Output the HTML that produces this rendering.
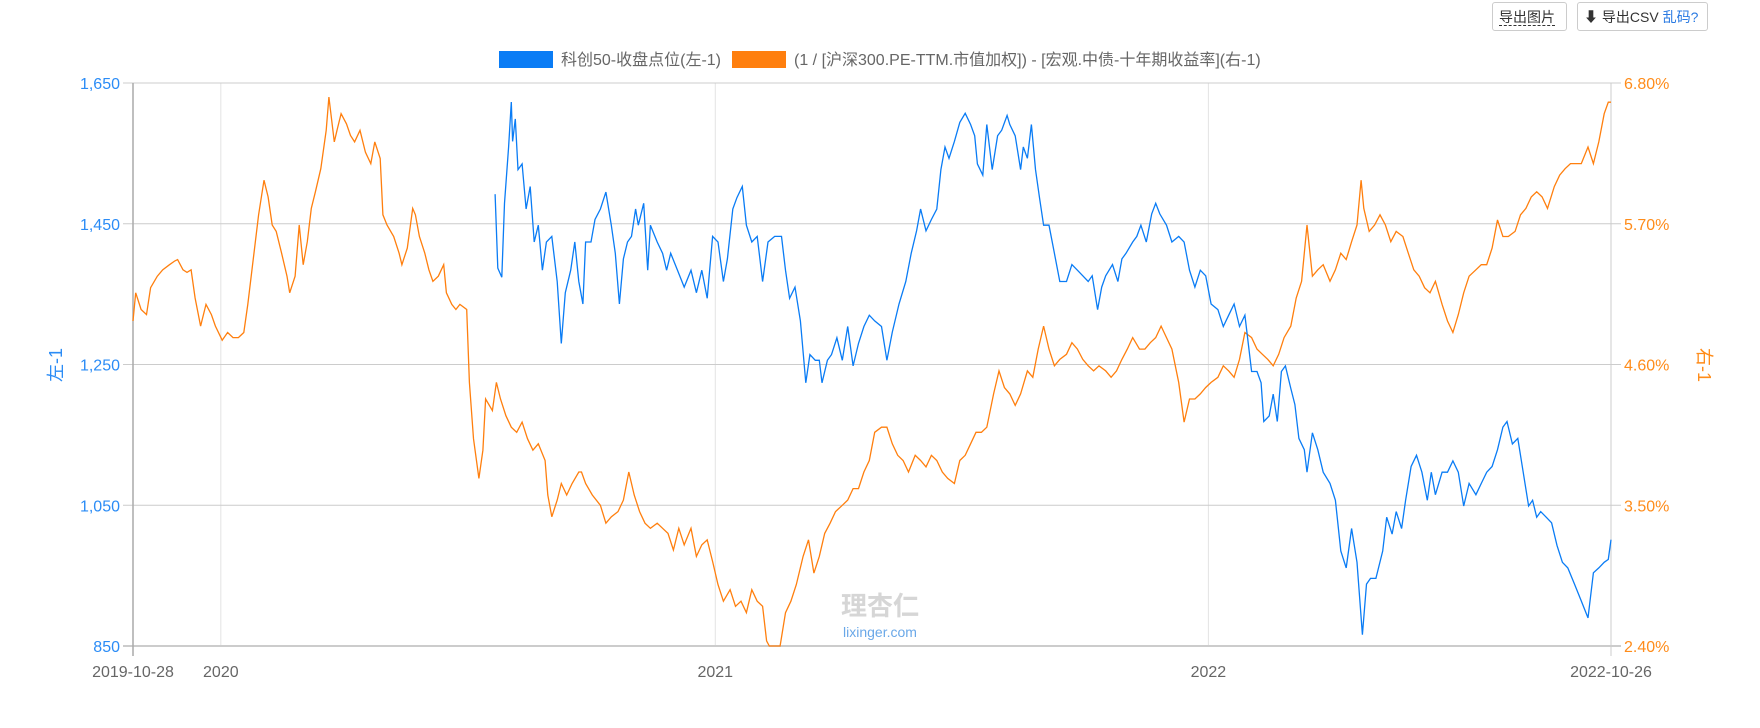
<!DOCTYPE html>
<html><head><meta charset="utf-8">
<style>
body{margin:0;width:1760px;height:728px;background:#fff;overflow:hidden;font-family:"Liberation Sans","Noto Sans CJK SC",sans-serif;}
.btn{position:absolute;top:2px;height:29px;border:1px solid #ccc;border-radius:3px;background:#fff;font-size:14px;color:#333;line-height:28px;box-sizing:border-box;padding:0 6px;white-space:nowrap;}
</style></head><body>
<div class="btn" style="left:1492px;width:75px;"><span style="border-bottom:1px dashed #333;">导出图片</span></div>
<div class="btn" style="left:1577px;width:131px;">⬇ 导出CSV <span style="color:#2a7ae2">乱码?</span></div>
<svg id="chart" width="1760" height="728" style="position:absolute;left:0;top:0"></svg>
<script>
const blueDays=[268,270,273,275,278,280,281,283,285,288,291,294,297,300,303,306,310,314,317,320,324,327,330,333,335,339,342,346,350,354,357,360,363,366,369,372,374,378,381,383,388,392,395,398,403,408,413,417,421,425,429,433,437,440,444,447,451,454,458,462,466,470,475,480,483,486,490,494,498,501,505,508,510,514,517,521,525,529,533,537,541,545,549,554,558,562,567,572,576,580,583,587,591,595,598,601,604,608,612,616,620,623,625,629,632,636,640,643,647,649,653,657,659,662,665,668,671,674,678,682,686,691,695,699,703,707,710,714,717,720,725,729,732,735,740,743,746,750,754,757,760,765,769,774,778,782,786,790,794,798,803,807,811,815,819,823,828,832,835,837,841,844,847,850,853,857,860,863,867,869,873,877,881,886,890,894,898,902,906,910,913,916,920,925,928,932,935,939,942,946,950,954,958,961,964,969,973,977,981,985,989,994,998,1002,1006,1010,1014,1017,1021,1025,1029,1033,1036,1039,1042,1046,1050,1054,1058,1062,1067,1072,1077,1081,1085,1089,1092,1094];
const blueVals=[1492,1387,1374,1479,1559,1623,1567,1599,1527,1535,1471,1503,1424,1448,1384,1424,1432,1368,1280,1352,1384,1424,1368,1336,1424,1424,1456,1471,1495,1448,1408,1336,1400,1424,1432,1471,1448,1479,1384,1448,1424,1408,1384,1408,1384,1360,1384,1352,1384,1344,1432,1424,1368,1400,1471,1487,1503,1448,1424,1432,1368,1424,1432,1432,1384,1344,1360,1312,1224,1264,1256,1256,1224,1256,1264,1288,1256,1304,1248,1280,1304,1320,1312,1304,1256,1296,1336,1368,1408,1440,1471,1440,1456,1471,1527,1559,1543,1567,1594,1607,1591,1575,1535,1519,1591,1527,1575,1583,1604,1591,1575,1527,1559,1543,1591,1527,1487,1448,1448,1408,1368,1368,1392,1384,1376,1368,1376,1328,1360,1376,1392,1368,1400,1408,1424,1432,1448,1424,1464,1479,1464,1448,1424,1432,1424,1384,1360,1384,1376,1336,1328,1304,1320,1336,1304,1320,1240,1240,1224,1169,1177,1208,1169,1240,1248,1216,1193,1145,1129,1097,1153,1129,1097,1081,1057,985,961,1017,969,866,938,946,946,985,1033,1009,1041,1017,1057,1105,1121,1097,1057,1097,1065,1097,1097,1113,1097,1049,1081,1065,1081,1097,1105,1129,1161,1169,1137,1145,1097,1049,1057,1033,1041,1033,1025,993,969,961,938,914,890,954,961,969,973,1001];
const orangeDays=[0,2,6,10,13,18,22,27,31,33,37,40,43,46,50,54,58,61,66,70,74,78,82,85,89,93,97,100,103,106,110,114,116,120,123,126,129,132,135,139,143,145,149,151,154,158,161,164,168,172,176,179,183,185,188,193,197,199,203,207,209,212,216,219,222,226,230,232,236,239,242,247,249,252,256,259,261,266,269,272,276,280,284,288,292,296,300,305,307,310,314,317,321,325,330,332,335,340,346,350,354,359,363,367,371,375,379,383,388,392,396,400,404,408,413,417,421,425,429,433,437,442,446,450,454,458,462,466,469,471,475,479,483,487,491,496,500,504,508,512,516,520,525,529,533,537,541,545,549,554,558,562,566,570,574,579,583,587,591,595,599,603,608,612,616,620,624,628,632,637,641,645,649,653,657,662,666,670,674,678,682,686,691,695,699,703,707,711,715,720,724,728,732,736,740,745,749,753,757,761,765,769,774,778,782,786,790,794,798,803,807,811,815,819,823,828,832,836,840,844,848,852,857,861,865,869,873,877,881,886,890,894,898,902,906,909,911,915,919,923,927,931,935,940,944,948,952,956,960,964,969,973,977,981,985,989,994,998,1002,1006,1010,1014,1018,1023,1027,1031,1035,1039,1043,1047,1052,1056,1060,1064,1068,1072,1077,1081,1085,1089,1092,1094];
const orangeVals=[4.94,5.16,5.03,4.99,5.20,5.29,5.34,5.38,5.41,5.42,5.34,5.32,5.34,5.12,4.90,5.07,4.99,4.90,4.79,4.85,4.81,4.81,4.85,5.07,5.42,5.77,6.04,5.91,5.69,5.64,5.47,5.29,5.16,5.29,5.69,5.38,5.56,5.82,5.95,6.13,6.43,6.69,6.34,6.43,6.56,6.48,6.39,6.34,6.43,6.26,6.17,6.34,6.21,5.77,5.69,5.60,5.47,5.38,5.51,5.82,5.77,5.60,5.47,5.34,5.25,5.29,5.38,5.16,5.07,5.03,5.07,5.03,4.46,4.02,3.71,3.93,4.33,4.24,4.46,4.33,4.20,4.11,4.07,4.15,4.02,3.93,3.98,3.85,3.58,3.41,3.54,3.67,3.58,3.67,3.76,3.76,3.67,3.58,3.50,3.36,3.41,3.45,3.54,3.76,3.58,3.45,3.36,3.32,3.36,3.32,3.28,3.15,3.32,3.19,3.32,3.10,3.19,3.23,3.06,2.88,2.75,2.84,2.71,2.75,2.66,2.84,2.75,2.71,2.44,2.40,2.40,2.40,2.66,2.75,2.88,3.10,3.23,2.97,3.10,3.28,3.36,3.45,3.50,3.54,3.63,3.63,3.76,3.85,4.07,4.11,4.11,3.98,3.89,3.85,3.76,3.89,3.85,3.80,3.89,3.85,3.76,3.71,3.67,3.85,3.89,3.98,4.07,4.07,4.11,4.37,4.55,4.42,4.37,4.28,4.37,4.55,4.50,4.72,4.90,4.72,4.59,4.64,4.68,4.77,4.72,4.64,4.59,4.55,4.59,4.55,4.50,4.55,4.64,4.72,4.81,4.72,4.72,4.77,4.81,4.90,4.81,4.72,4.46,4.15,4.33,4.33,4.37,4.42,4.46,4.50,4.59,4.55,4.50,4.64,4.85,4.81,4.72,4.68,4.64,4.59,4.68,4.81,4.90,5.12,5.25,5.69,5.29,5.34,5.38,5.25,5.34,5.47,5.42,5.56,5.69,6.04,5.82,5.64,5.69,5.77,5.69,5.56,5.64,5.60,5.47,5.34,5.29,5.20,5.16,5.25,5.07,4.94,4.85,4.99,5.16,5.29,5.34,5.38,5.38,5.51,5.73,5.60,5.60,5.64,5.77,5.82,5.91,5.95,5.91,5.82,5.99,6.08,6.13,6.17,6.17,6.17,6.30,6.17,6.34,6.56,6.65,6.65];
const leftTicks=[850,1050,1250,1450,1650];
const leftTickLabels=["850","1,050","1,250","1,450","1,650"];
const rightTicks=[2.4,3.5,4.6,5.7,6.8];
const rightTickLabels=["2.40%","3.50%","4.60%","5.70%","6.80%"];
const xTickDays=[0,65,431,796,1094];
const xTickLabels=["2019-10-28","2020","2021","2022","2022-10-26"];

const L=133,R=1611,T=83,B=646,NS="http://www.w3.org/2000/svg";
const sx=d=>L+(d-0)/(1094-0)*(R-L);
const syL=v=>B-(v-850)/(1650-850)*(B-T);
const syR=v=>B-(v-2.4)/(6.8-2.4)*(B-T);
const svg=document.getElementById('chart');
function mk(tag,attrs,txt){const e=document.createElementNS(NS,tag);for(const k in attrs)e.setAttribute(k,attrs[k]);if(txt!=null)e.textContent=txt;svg.appendChild(e);return e;}

xTickDays.forEach((d,i)=>{if(i>0&&i<4){const g=mk('line',{x1:sx(d),x2:sx(d),y1:T,y2:B,stroke:'#e3e3e3'});

}});
leftTicks.forEach((v,i)=>{const g=mk('line',{x1:L-10,x2:R+10,y1:syL(v),y2:syL(v),stroke:'#cccccc','stroke-width':i==0?2:1});


const t=mk('text',{x:L-13,y:syL(v)+6,'text-anchor':'end',fill:'#2b8cf6','font-size':16},leftTickLabels[i]);

});
rightTicks.forEach((v,i)=>{const t=mk('text',{x:R+13,y:syR(v)+6,fill:'#ff8c1a','font-size':16},rightTickLabels[i]);

});
const al=mk('line',{x1:L,x2:L,y1:T,y2:B+10,stroke:'#aaa','stroke-width':1.5});


const ar=mk('line',{x1:R,x2:R,y1:T,y2:B+10,stroke:'#ccc'});


xTickDays.forEach((d,i)=>{const t=mk('text',{x:sx(d),y:677,'text-anchor':'middle',fill:'#666','font-size':16},xTickLabels[i]);

});

const yl=mk('text',{x:0,y:0,transform:'translate(62,365) rotate(-90)','text-anchor':'middle',fill:'#2b8cf6','font-size':18},'左-1');


const yr=mk('text',{x:0,y:0,transform:'translate(1698,365) rotate(90)','text-anchor':'middle',fill:'#ff8c1a','font-size':18},'右-1');



const w1=mk('text',{x:880,y:615,'text-anchor':'middle',fill:'#d6d6d6','font-size':26,'font-weight':'bold'},'理杏仁');


const w2=mk('text',{x:880,y:637,'text-anchor':'middle',fill:'#6aa8e8','font-size':14},'lixinger.com');



const po=mk('polyline',{points:orangeDays.map((d,i)=>sx(d).toFixed(1)+','+syR(orangeVals[i]).toFixed(1)).join(' '),fill:'none',stroke:'#ff7f0e','stroke-width':1.3});


const pb=mk('polyline',{points:blueDays.map((d,i)=>sx(d).toFixed(1)+','+syL(blueVals[i]).toFixed(1)).join(' '),fill:'none',stroke:'#0a7cf5','stroke-width':1.3});



const lb=mk('rect',{x:499,y:51,width:54,height:17,fill:'#0a7cf5'});


const lt=mk('text',{x:561,y:65,fill:'#666','font-size':16},'科创50-收盘点位(左-1)');


const ob=mk('rect',{x:732,y:51,width:54,height:17,fill:'#ff7f0e'});


const ot=mk('text',{x:794,y:65,fill:'#666','font-size':16},'(1 / [沪深300.PE-TTM.市值加权]) - [宏观.中债-十年期收益率](右-1)');


</script>
</body></html>
